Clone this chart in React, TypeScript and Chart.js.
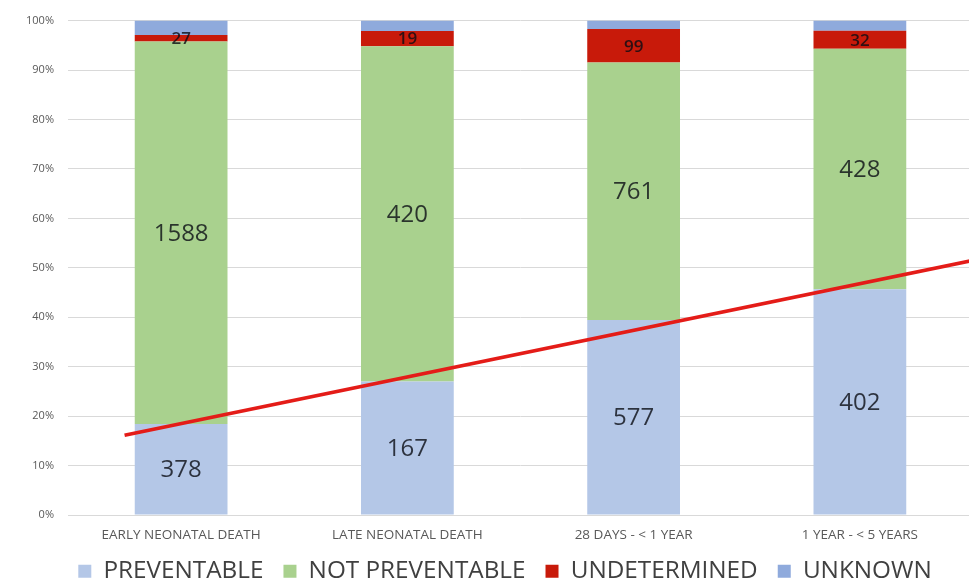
import { useEffect, useRef } from 'react';
import { Chart, registerables } from 'chart.js';

Chart.register(...registerables);

const categories = ['EARLY NEONATAL DEATH', 'LATE NEONATAL DEATH', '28 DAYS - < 1 YEAR', '1 YEAR - < 5 YEARS'];
const preventable = [378, 167, 577, 402];
const notPreventable = [1588, 420, 761, 428];
const undetermined = [27, 19, 99, 32];
const unknown = [60, 13, 25, 18];
const yTickValues = [0, 10, 20, 30, 40, 50, 60, 70, 80, 90, 100];

const FONT = '"Open Sans", "Liberation Sans", sans-serif';

const totals = categories.map(
  (_, i) => preventable[i] + notPreventable[i] + undetermined[i] + unknown[i]
);
const toPct = (arr: number[]) => arr.map((v, i) => (v / totals[i]) * 100);

// least-squares linear trend of the preventable share across age groups
const prevPct = toPct(preventable);
const meanX = (prevPct.length - 1) / 2;
const meanY = prevPct.reduce((a, b) => a + b, 0) / prevPct.length;
const slope =
  prevPct.reduce((s, y, i) => s + (i - meanX) * (y - meanY), 0) /
  prevPct.reduce((s, _y, i) => s + (i - meanX) * (i - meanX), 0);
const intercept = meanY - slope * meanX;
const trendX = [-0.25, 3.6];
const trendPoints = trendX.map((x) => ({ x, y: intercept + slope * x }));

// writes each segment's count in the middle of its bar piece
const countLabels = {
  id: 'countLabels',
  afterDatasetsDraw(chart: any) {
    const ctx = chart.ctx;
    chart.data.datasets.forEach((ds: any, di: number) => {
      if (!ds.counts || !ds.labelFont) return;
      const meta = chart.getDatasetMeta(di);
      meta.data.forEach((el: any, i: number) => {
        const { x, y, base } = el.getProps(['x', 'y', 'base'], true);
        ctx.save();
        ctx.font = ds.labelFont;
        ctx.fillStyle = 'rgba(10, 12, 20, 0.8)';
        ctx.textAlign = 'center';
        ctx.textBaseline = 'middle';
        ctx.fillText(String(ds.counts[i]), x, (y + base) / 2 + 1);
        ctx.restore();
      });
    });
  },
};

// nudges the legend row a little to the right of the canvas centre
const legendShift = {
  id: 'legendShift',
  afterLayout(chart: any) {
    const lg = chart.legend;
    if (!lg) return;
    lg.left += 7.5;
    lg.right += 7.5;
  },
};

export default function App() {
  const canvasRef = useRef<HTMLCanvasElement | null>(null);

  useEffect(() => {
    if (!canvasRef.current) return;
    const barBase = {
      type: 'bar' as const,
      stack: 'deaths',
      xAxisID: 'x',
      yAxisID: 'y',
      borderWidth: 0,
      grouped: false,
      barPercentage: 0.82,
      categoryPercentage: 0.5,
      order: 1,
    };
    const chart = new Chart(canvasRef.current, {
      type: 'bar',
      data: {
        labels: categories,
        datasets: [
          {
            ...barBase,
            label: 'PREVENTABLE',
            data: toPct(preventable),
            backgroundColor: '#b4c7e7',
            counts: preventable,
            labelFont: `24px ${FONT}`,
          } as any,
          {
            ...barBase,
            label: 'NOT PREVENTABLE',
            data: toPct(notPreventable),
            backgroundColor: '#a9d18e',
            counts: notPreventable,
            labelFont: `24px ${FONT}`,
          } as any,
          {
            ...barBase,
            label: 'UNDETERMINED',
            data: toPct(undetermined),
            backgroundColor: '#c81a0a',
            counts: undetermined,
            labelFont: `600 17px ${FONT}`,
          } as any,
          {
            ...barBase,
            label: 'UNKNOWN',
            data: toPct(unknown),
            backgroundColor: '#8faadc',
          } as any,
          {
            type: 'line',
            label: 'trend',
            data: trendPoints,
            xAxisID: 'xTrend',
            yAxisID: 'y',
            borderColor: 'rgb(228, 28, 24)',
            borderWidth: 3.8,
            pointRadius: 0,
            fill: false,
            order: 0,
          } as any,
        ],
      },
      options: {
        responsive: true,
        maintainAspectRatio: false,
        animation: false,
        layout: { padding: { top: 17, right: 7, left: 22, bottom: 0 } },
        plugins: {
          tooltip: { enabled: false },
          legend: {
            position: 'bottom',
            maxHeight: 46,
            labels: {
              font: { family: FONT, size: 24.3 },
              color: '#404040',
              boxWidth: 13,
              boxHeight: 13,
              padding: 20,
              filter: (item: any) => item.text !== 'trend',
            },
          },
        },
        scales: {
          x: {
            type: 'category',
            stacked: true,
            grid: { display: false, drawTicks: false },
            border: { display: true, color: '#d9d9d9' },
            ticks: {
              font: { family: FONT, size: 13.5 },
              color: '#595959',
              padding: 12,
              maxRotation: 0,
            },
            afterFit: (scale: any) => {
              scale.height = 24;
            },
          },
          xTrend: {
            type: 'linear',
            display: false,
            offset: false,
            grid: { offset: false },
            min: -0.5,
            max: 3.5,
          },
          y: {
            stacked: true,
            min: 0,
            max: 100,
            grid: { color: '#d9d9d9', drawTicks: false },
            border: { display: false },
            ticks: {
              font: { family: FONT, size: 11 },
              color: '#595959',
              padding: 14,
              callback: (v: any) => `${v}%`,
            },
            afterBuildTicks: (scale: any) => {
              scale.ticks = yTickValues.map((value) => ({ value }));
            },
            afterFit: (scale: any) => {
              scale.width = 46;
            },
          },
        },
      } as any,
      plugins: [countLabels, legendShift],
    });
    return () => chart.destroy();
  }, []);

  return (
    <div style={{ position: 'absolute', left: 0, top: 0, width: 969, height: 585, overflow: 'hidden', background: '#fff' }}>
      <div style={{ position: 'relative', width: 980, height: 585 }}>
        <canvas ref={canvasRef} />
      </div>
    </div>
  );
}
